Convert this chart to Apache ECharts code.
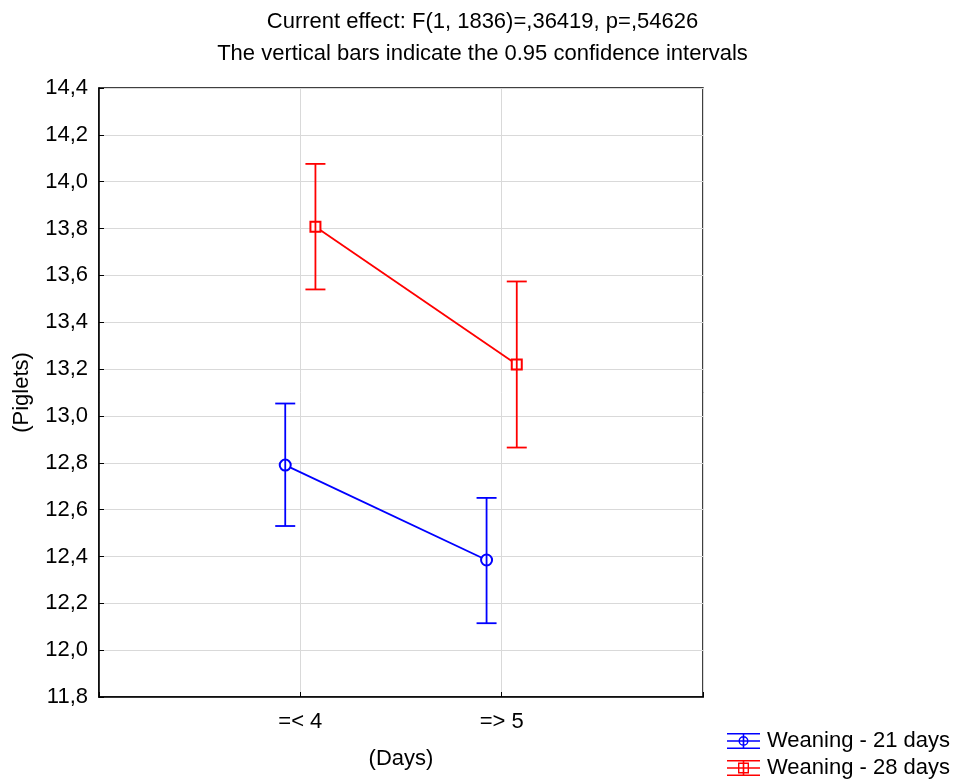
<!DOCTYPE html>
<html>
<head>
<meta charset="utf-8">
<script src="https://cdn.jsdelivr.net/npm/echarts@6/dist/echarts.min.js"></script>
<style>
	html, body { margin: 0; padding: 0; background: #fff; }
	#chart { width: 965px; height: 779px; }
</style>
</head>
<body>
<div id="chart"></div>
<script>
	'use strict'

	/*-----Data-----*/
	var categories = ['=< 4', '=> 5'];
	var seriesNames = ['Weaning - 21 days', 'Weaning - 28 days'];
	var mean21 = [12.79, 12.385];
	var low21 = [12.53, 12.115];
	var high21 = [13.053, 12.65];
	var mean28 = [13.808, 13.22];
	var low28 = [13.54, 12.865];
	var high28 = [14.076, 13.574];
	var yTicks = { min: 11.8, max: 14.4, step: 0.2 };

	var font = "'Liberation Sans', Arial, sans-serif";
	var fs = 22;
	var blue = '#0000ff';
	var red = '#ff0000';
	var shift = 0.075;
	var lw = 1.8;

	function points(means, off) {
		return means.map(function(v, i) { return [i + 1 + off, v]; });
	}
	function bars(lows, highs, off) {
		return lows.map(function(v, i) { return [i + 1 + off, v, highs[i]]; });
	}

	/*-----error bars-----*/
	function errorBar(color) {
		return function(params, api) {
			var x = api.value(0);
			var lo = api.coord([x, api.value(1)]);
			var hi = api.coord([x, api.value(2)]);
			var w = 10;
			var style = { stroke: color, lineWidth: lw };
			return {
				type: 'group',
				children: [
					{ type: 'line', shape: { x1: lo[0], y1: lo[1], x2: hi[0], y2: hi[1] }, style: style },
					{ type: 'line', shape: { x1: hi[0] - w, y1: hi[1], x2: hi[0] + w, y2: hi[1] }, style: style },
					{ type: 'line', shape: { x1: lo[0] - w, y1: lo[1], x2: lo[0] + w, y2: lo[1] }, style: style }
				]
			};
		};
	}

	// legend icons: three horizontal bars, a vertical bar and the marker
	var iconBase = 'M0,0H33V1.6H0Z M0,7.2H33V8.8H0Z M0,14.4H33V16H0Z M15.7,0H17.3V16H15.7Z ';
	var iconCircle = 'path://' + iconBase +
		'M11.5,8A5,5 0 1,1 21.5,8A5,5 0 1,1 11.5,8Z M12.9,8A3.6,3.6 0 1,0 20.1,8A3.6,3.6 0 1,0 12.9,8Z';
	var iconSquare = 'path://' + iconBase +
		'M11,2.5H22V13.5H11Z M12.4,3.9V12.1H20.6V3.9Z';

	var chart = echarts.init(document.getElementById('chart'));
	var option = {
		backgroundColor: '#fff',
		animation: false,
		title: {
			text: 'Current effect: F(1, 1836)=,36419, p=,54626\nThe vertical bars indicate the 0.95 confidence intervals',
			left: 'center',
			top: 1,
			textStyle: {
				fontFamily: font,
				fontSize: fs,
				fontWeight: 'normal',
				color: '#000',
				lineHeight: 32
			}
		},
		grid: {
			left: 99,
			right: 262,
			top: 88,
			bottom: 82,
			show: true,
			borderColor: '#000',
			borderWidth: 1.5
		},
		legend: {
			orient: 'vertical',
			left: 722,
			top: 725,
			height: 80,
			itemWidth: 33,
			itemHeight: 16,
			itemGap: 5,
			selectedMode: false,
			textStyle: { fontFamily: font, fontSize: fs, color: '#000', lineHeight: 20, padding: [0, 0, 0, 2] },
			data: [
				{ name: seriesNames[0], icon: iconCircle },
				{ name: seriesNames[1], icon: iconSquare }
			]
		},
		xAxis: {
			type: 'value',
			min: 0,
			max: 3,
			interval: 1,
			name: '(Days)',
			nameLocation: 'middle',
			nameGap: 51,
			nameTextStyle: { fontFamily: font, fontSize: fs, color: '#000' },
			axisLine: { show: true, lineStyle: { color: '#000', width: 1.5 } },
			axisTick: { show: true, inside: true, length: 5, lineStyle: { color: '#000' } },
			axisLabel: {
				fontFamily: font,
				fontSize: fs,
				color: '#000',
				margin: 14,
				formatter: function(v) { return categories[v - 1] || ''; }
			},
			splitLine: { show: true, lineStyle: { color: '#d9d9d9', width: 1 } }
		},
		yAxis: {
			type: 'value',
			min: yTicks.min,
			max: yTicks.max,
			interval: yTicks.step,
			name: '(Piglets)',
			nameLocation: 'middle',
			nameGap: 66,
			nameTextStyle: { fontFamily: font, fontSize: fs, color: '#000' },
			axisLine: { show: true, lineStyle: { color: '#000', width: 1.5 } },
			axisTick: { show: true, inside: true, length: 5, lineStyle: { color: '#000' } },
			axisLabel: {
				fontFamily: font,
				fontSize: fs,
				color: '#000',
				margin: 11,
				formatter: function(v) { return v.toFixed(1).replace('.', ','); }
			},
			splitLine: { show: true, lineStyle: { color: '#d9d9d9', width: 1 } }
		},
		series: [{
			name: seriesNames[0],
			type: 'line',
			data: points(mean21, -shift),
			symbol: 'emptyCircle',
			symbolSize: 11,
			itemStyle: { color: blue, borderWidth: lw },
			lineStyle: { color: blue, width: lw },
			z: 3
		}, {
			name: seriesNames[1],
			type: 'line',
			data: points(mean28, shift),
			symbol: 'emptyRect',
			symbolSize: 10,
			itemStyle: { color: red, borderWidth: lw },
			lineStyle: { color: red, width: lw },
			z: 3
		}, {
			name: seriesNames[0],
			type: 'custom',
			data: bars(low21, high21, -shift),
			encode: { x: 0, y: [1, 2] },
			renderItem: errorBar(blue),
			z: 4
		}, {
			name: seriesNames[1],
			type: 'custom',
			data: bars(low28, high28, shift),
			encode: { x: 0, y: [1, 2] },
			renderItem: errorBar(red),
			z: 4
		}]
	};
	chart.setOption(option);
</script>
</body>
</html>
